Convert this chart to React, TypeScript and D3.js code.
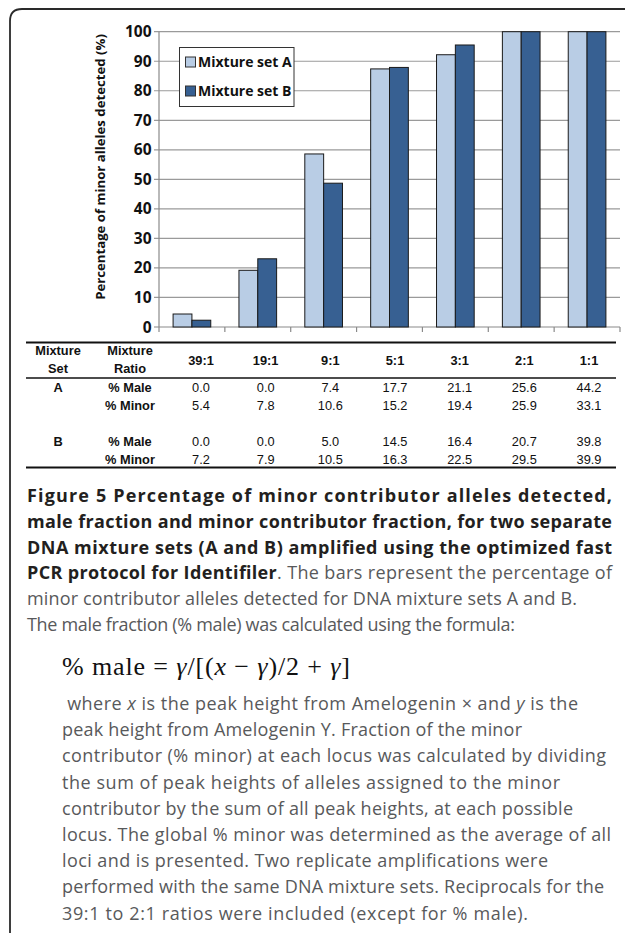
import React from "react";
import * as d3 from "d3";

const categories = ["39:1", "19:1", "9:1", "5:1", "3:1", "2:1", "1:1"];
const seriesNames = ["Mixture set A", "Mixture set B"];
const setA = [4.4, 19.2, 58.6, 87.4, 92.2, 100, 100];
const setB = [2.3, 23.1, 48.7, 87.9, 95.5, 100, 100];
const yTicks = [0, 10, 20, 30, 40, 50, 60, 70, 80, 90, 100];

const maleA = ["0.0", "0.0", "7.4", "17.7", "21.1", "25.6", "44.2"];
const minorA = ["5.4", "7.8", "10.6", "15.2", "19.4", "25.9", "33.1"];
const maleB = ["0.0", "0.0", "5.0", "14.5", "16.4", "20.7", "39.8"];
const minorB = ["7.2", "7.9", "10.5", "16.3", "22.5", "29.5", "39.9"];

const captionBold = [
  "Figure 5 Percentage of minor contributor alleles detected,",
  "male fraction and minor contributor fraction, for two separate",
  "DNA mixture sets (A and B) amplified using the optimized fast",
];
const captionLine4Bold = "PCR protocol for Identifiler";
const captionLine4Reg = ". The bars represent the percentage of";
const captionReg = [
  "minor contributor alleles detected for DNA mixture sets A and B.",
  "The male fraction (% male) was calculated using the formula:",
];
const captionRegWidths = [550, 488];
const paragraph = [
  "peak height from Amelogenin Y. Fraction of the minor",
  "contributor (% minor) at each locus was calculated by dividing",
  "the sum of peak heights of alleles assigned to the minor",
  "contributor by the sum of all peak heights, at each possible",
  "locus. The global % minor was determined as the average of all",
  "loci and is presented. Two replicate amplifications were",
  "performed with the same DNA mixture sets. Reciprocals for the",
  "39:1 to 2:1 ratios were included (except for % male).",
];
const paragraphWidths = [460, 544, 498, 511, 549, 486, 542, 466];

const colorA = "#b9cde5";
const colorB = "#376092";

export default function App() {
  const W = 625;
  const H = 933;
  const plotLeft = 159;
  const plotRight = 620;
  const y = d3.scaleLinear().domain([0, 100]).range([327, 31.7]);
  const x0 = d3
    .scaleBand<string>()
    .domain(categories)
    .range([plotLeft, plotRight])
    .paddingInner(0.428)
    .paddingOuter(0.214);
  const x1 = d3.scaleBand<string>().domain(seriesNames).range([0, x0.bandwidth()]);
  const edges = categories.map((c) => (x0(c) as number) - (x0.step() - x0.bandwidth()) / 2);
  edges.push(plotRight);
  const colX = d3.scalePoint<string>().domain(categories).range([201, 589]);

  const tableFont = "'Liberation Sans', Arial, sans-serif";
  const capFont = "'Open Sans', sans-serif";
  const chartFont = "'Open Sans', sans-serif";
  const capColor = "#231f20";
  const regColor = "#58595b";
  const capSize = 18;
  const capLH = 25.8;
  const paraLH = 26.2;

  const rows = [
    { set: "A", label: "% Male", vals: maleA, yb: 392 },
    { set: "", label: "% Minor", vals: minorA, yb: 410 },
    { set: "B", label: "% Male", vals: maleB, yb: 446 },
    { set: "", label: "% Minor", vals: minorB, yb: 464 },
  ];

  return (
    <svg
      width={W}
      height={H}
      style={{ position: "absolute", left: 0, top: 0, display: "block", background: "#fff" }}
    >
      {/* frame */}
      <path d="M10,945 L10,21 Q10,9 22,9 L640,9" fill="none" stroke="#2a2a2a" strokeWidth={1.8} />

      {/* gridlines */}
      {yTicks.map((t) => (
        <line
          key={"g" + t}
          x1={154}
          x2={t === 0 ? plotLeft : plotRight}
          y1={y(t)}
          y2={y(t)}
          stroke="#9a9a9a"
          strokeWidth={1.2}
        />
      ))}
      {/* axes */}
      <line x1={plotLeft} x2={plotLeft} y1={y(100)} y2={y(0)} stroke="#8a8a8a" strokeWidth={1.2} />
      <line x1={plotLeft} x2={plotRight} y1={y(0)} y2={y(0)} stroke="#8a8a8a" strokeWidth={1.2} />
      {edges.map((e, i) => (
        <line key={"t" + i} x1={e} x2={e} y1={y(0)} y2={y(0) + 5} stroke="#8a8a8a" strokeWidth={1.2} />
      ))}
      {/* y tick labels */}
      {yTicks.map((t) => (
        <text
          key={"yl" + t}
          x={151.5}
          y={y(t) + 5.5}
          textAnchor="end"
          fontFamily={chartFont}
          fontWeight={700}
          fontSize={15.5}
          fill="#111"
        >
          {t}
        </text>
      ))}
      <text
        transform={`translate(105,167) rotate(-90)`}
        textAnchor="middle"
        fontFamily={chartFont}
        fontWeight={700}
        fontSize={13.2}
        fill="#111"
      >
        Percentage of minor alleles detected (%)
      </text>

      {/* bars */}
      {categories.map((c, i) => (
        <g key={"b" + c} transform={`translate(${x0(c)},0)`}>
          {[setA[i], setB[i]].map((v, j) => (
            <rect
              key={j}
              x={x1(seriesNames[j])}
              y={y(v)}
              width={x1.bandwidth()}
              height={y(0) - y(v)}
              fill={j === 0 ? colorA : colorB}
              stroke="#1a1a1a"
              strokeWidth={1}
            />
          ))}
        </g>
      ))}

      {/* legend */}
      <rect x={179.5} y={47.5} width={114.5} height={59} fill="#fff" stroke="#333" strokeWidth={1} />
      {seriesNames.map((s, i) => (
        <g key={"lg" + s}>
          <rect
            x={185.5}
            y={57 + i * 29}
            width={10}
            height={10}
            fill={i === 0 ? colorA : colorB}
            stroke="#333"
            strokeWidth={1}
          />
          <text x={198} y={66.5 + i * 29.5} fontFamily={chartFont} fontWeight={700} fontSize={14} fill="#111">
            {s}
          </text>
        </g>
      ))}

      {/* table */}
      <line x1={26} x2={616} y1={342.5} y2={342.5} stroke="#111" strokeWidth={1.8} />
      <line x1={26} x2={616} y1={378} y2={378} stroke="#111" strokeWidth={1.5} />
      <line x1={26} x2={616} y1={467.5} y2={467.5} stroke="#111" strokeWidth={1.8} />
      <g fontFamily={tableFont} fontSize={12.8} fill="#111">
        <text x={58} y={355} textAnchor="middle" fontWeight={700}>Mixture</text>
        <text x={58} y={373} textAnchor="middle" fontWeight={700}>Set</text>
        <text x={130} y={355} textAnchor="middle" fontWeight={700}>Mixture</text>
        <text x={130} y={373} textAnchor="middle" fontWeight={700}>Ratio</text>
        {categories.map((c) => (
          <text key={"h" + c} x={colX(c)} y={365} textAnchor="middle" fontWeight={700}>
            {c}
          </text>
        ))}
        {rows.map((r, ri) => (
          <g key={"r" + ri}>
            {r.set && (
              <text x={58} y={r.yb} textAnchor="middle" fontWeight={700}>
                {r.set}
              </text>
            )}
            <text x={130} y={r.yb} textAnchor="middle" fontWeight={700}>
              {r.label}
            </text>
            {r.vals.map((v, i) => (
              <text key={i} x={colX(categories[i])} y={r.yb} textAnchor="middle">
                {v}
              </text>
            ))}
          </g>
        ))}
      </g>

      {/* caption */}
      <g fontFamily={capFont} fontSize={capSize}>
        {captionBold.map((l, i) => (
          <text
            key={"cb" + i}
            x={27}
            y={502 + i * capLH}
            fontWeight={700}
            fill={capColor}
            textLength={585}
            lengthAdjust="spacing"
          >
            {l}
          </text>
        ))}
        <text x={27} y={502 + 3 * capLH} textLength={585} lengthAdjust="spacing">
          <tspan fontWeight={700} fill={capColor}>
            {captionLine4Bold}
          </tspan>
          <tspan fill={regColor}>{captionLine4Reg}</tspan>
        </text>
        {captionReg.map((l, i) => (
          <text
            key={"cr" + i}
            x={27}
            y={502 + (4 + i) * capLH}
            fill={regColor}
            textLength={captionRegWidths[i]}
            lengthAdjust="spacing"
          >
            {l}
          </text>
        ))}
        <text
          x={62}
          y={675}
          fontFamily="'Liberation Serif', 'Times New Roman', serif"
          fontSize={26}
          fill="#111"
          textLength={288}
          lengthAdjust="spacing"
        >
          {"% male = "}
          <tspan fontStyle="italic">γ</tspan>
          {"/[("}
          <tspan fontStyle="italic">x</tspan>
          {" − "}
          <tspan fontStyle="italic">γ</tspan>
          {")/2 + "}
          <tspan fontStyle="italic">γ</tspan>
          {"]"}
        </text>
        <text
          x={62}
          y={710}
          fill={regColor}
          style={{ whiteSpace: "pre" }}
          textLength={516}
          lengthAdjust="spacing"
        >
          {" where "}
          <tspan fontStyle="italic">x</tspan>
          {" is the peak height from Amelogenin × and "}
          <tspan fontStyle="italic">y</tspan>
          {" is the"}
        </text>
        {paragraph.map((l, i) => (
          <text
            key={"p" + i}
            x={62}
            y={710 + (i + 1) * paraLH}
            fill={regColor}
            textLength={paragraphWidths[i]}
            lengthAdjust="spacing"
          >
            {l}
          </text>
        ))}
      </g>
    </svg>
  );
}
